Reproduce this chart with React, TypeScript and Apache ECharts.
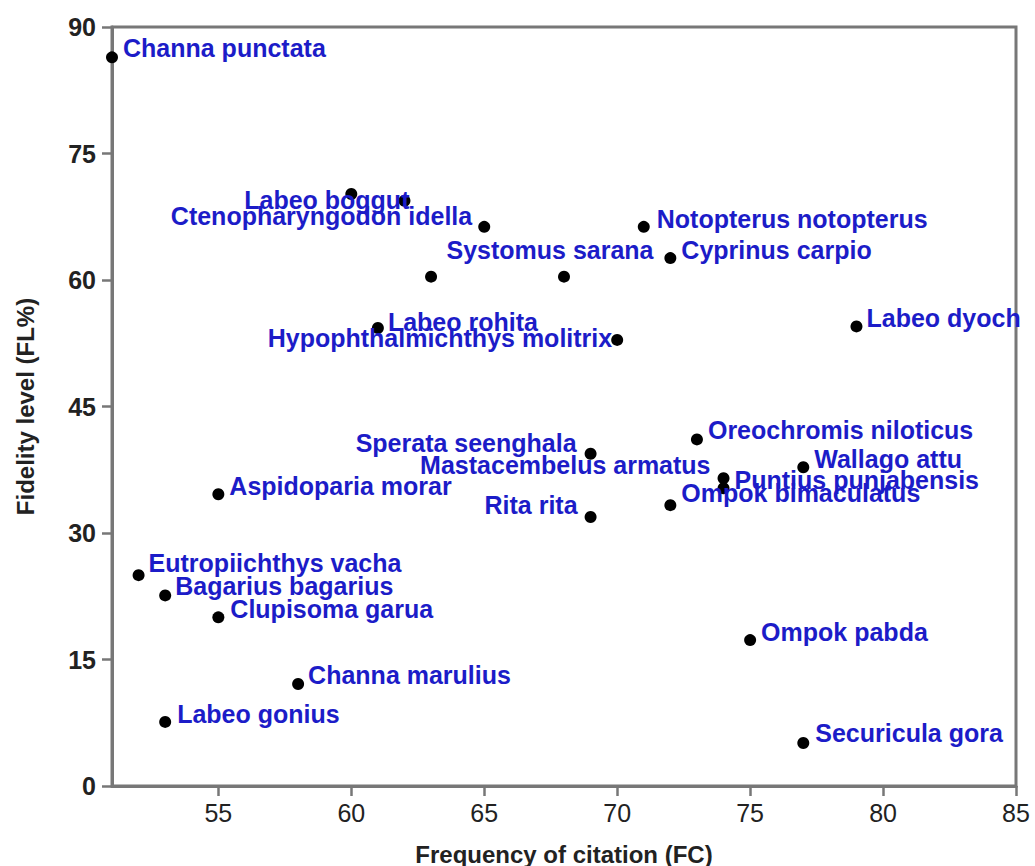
import React, { useEffect, useRef } from "react";
import * as echarts from "echarts";

const species: string[] = [
  "Channa punctata",
  "",
  "Labeo boggut",
  "Ctenopharyngodon idella",
  "",
  "Systomus sarana",
  "Notopterus notopterus",
  "Cyprinus carpio",
  "Labeo rohita",
  "Hypophthalmichthys molitrix",
  "Labeo dyocheilus",
  "Oreochromis niloticus",
  "Sperata seenghala",
  "Mastacembelus armatus",
  "Puntius punjabensis",
  "Wallago attu",
  "Ompok bimaculatus",
  "Rita rita",
  "Aspidoparia morar",
  "Eutropiichthys vacha",
  "Bagarius bagarius",
  "Clupisoma garua",
  "Channa marulius",
  "Labeo gonius",
  "Ompok pabda",
  "Securicula gora",
];

const frequencyOfCitation: number[] = [
  51, 60, 62, 65, 63, 68, 71, 72, 61, 70, 79, 73, 69, 74, 74, 77, 72, 69, 55, 52, 53, 55, 58, 53, 75, 77,
];

const fidelityLevel: number[] = [
  86.4, 70.2, 69.4, 66.3, 60.4, 60.4, 66.3, 62.6, 54.3, 52.9, 54.5, 41.1, 39.4, 36.5, 35.3, 37.8, 33.3, 31.9,
  34.6, 25.0, 22.6, 20.0, 12.1, 7.6, 17.3, 5.1,
];

const xTicks: number[] = [55, 60, 65, 70, 75, 80, 85];
const yTicks: number[] = [0, 15, 30, 45, 60, 75, 90];

// label placement (layout only): [dx, dy, align] relative to point centre
const labelLayout: [number, number, string][] = [
  [11, -9, "left"],
  [0, 0, "left"],
  [5, -1, "right"],
  [-12, -11, "right"],
  [0, 0, "left"],
  [-14, -27, "center"],
  [13, -8, "left"],
  [11, -8, "left"],
  [10, -6, "left"],
  [-5, -2, "right"],
  [10, -8, "left"],
  [11, -9, "left"],
  [-14, -11, "right"],
  [-13, -13, "right"],
  [11, -8, "left"],
  [11, -8, "left"],
  [11, -12, "left"],
  [-13, -12, "right"],
  [11, -8, "left"],
  [10, -12, "left"],
  [10, -9, "left"],
  [12, -8, "left"],
  [10, -9, "left"],
  [12, -8, "left"],
  [11, -8, "left"],
  [12, -10, "left"],
];

const SYM = 12;
const AXIS_COLOR = "#777777";
const FONT = "'Liberation Sans', Arial, sans-serif";

export default function App() {
  const ref = useRef<HTMLDivElement>(null);

  useEffect(() => {
    if (!ref.current) return;
    const chart = echarts.init(ref.current, null, { renderer: "svg" });

    const data = species.map((name, i) => {
      const [dx, dy, align] = labelLayout[i];
      const label: any = {
        show: name !== "",
        position: [SYM / 2 + dx, SYM / 2 + dy],
        align,
        verticalAlign: "middle",
      };
      if (name === "Labeo dyocheilus") {
        label.width = 160;
        label.overflow = "truncate";
        label.ellipsis = "";
      }
      return { name, value: [frequencyOfCitation[i], fidelityLevel[i]], label };
    });

    chart.setOption({
      animation: false,
      backgroundColor: "#ffffff",
      grid: {
        left: 112,
        right: 19,
        top: 27,
        bottom: 80,
        outerBoundsMode: "none",
        containLabel: false,
        show: true,
        borderColor: AXIS_COLOR,
        borderWidth: 3,
        backgroundColor: "transparent",
      },
      xAxis: {
        type: "value",
        min: 51,
        max: 85,
        name: "Frequency of citation (FC)",
        nameLocation: "middle",
        nameGap: 56,
        nameTextStyle: { fontFamily: FONT, fontSize: 24, fontWeight: "bold", color: "#222" },
        splitLine: { show: false },
        axisLine: { show: true, lineStyle: { color: AXIS_COLOR, width: 3 } },
        axisTick: { show: true, length: 10, customValues: xTicks, lineStyle: { color: AXIS_COLOR, width: 2.5 } },
        axisLabel: {
          customValues: xTicks,
          margin: 14,
          fontFamily: FONT,
          fontSize: 25,
          color: "#222",
        },
      },
      yAxis: {
        type: "value",
        min: 0,
        max: 90,
        interval: 15,
        name: "Fidelity level (FL%)",
        nameLocation: "middle",
        nameGap: 75,
        nameTextStyle: { fontFamily: FONT, fontSize: 24, fontWeight: "bold", color: "#222" },
        splitLine: { show: false },
        axisLine: { show: true, lineStyle: { color: AXIS_COLOR, width: 3 } },
        axisTick: { show: true, length: 10, lineStyle: { color: AXIS_COLOR, width: 2.5 } },
        axisLabel: {
          customValues: yTicks,
          margin: 16,
          fontFamily: FONT,
          fontSize: 25,
          fontWeight: "bold",
          color: "#222",
        },
      },
      series: [
        {
          type: "scatter",
          symbol: "circle",
          symbolSize: SYM,
          clip: false,
          itemStyle: { color: "#000000", opacity: 1 },
          label: {
            show: true,
            formatter: "{b}",
            fontFamily: FONT,
            fontSize: 25,
            fontWeight: "bold",
            color: "#1c1cc8",
          },
          labelLayout: { hideOverlap: false },
          data,
        },
      ],
    });

    return () => chart.dispose();
  }, []);

  return <div ref={ref} style={{ width: 1035, height: 866, position: "absolute", left: 0, top: 0 }} />;
}
